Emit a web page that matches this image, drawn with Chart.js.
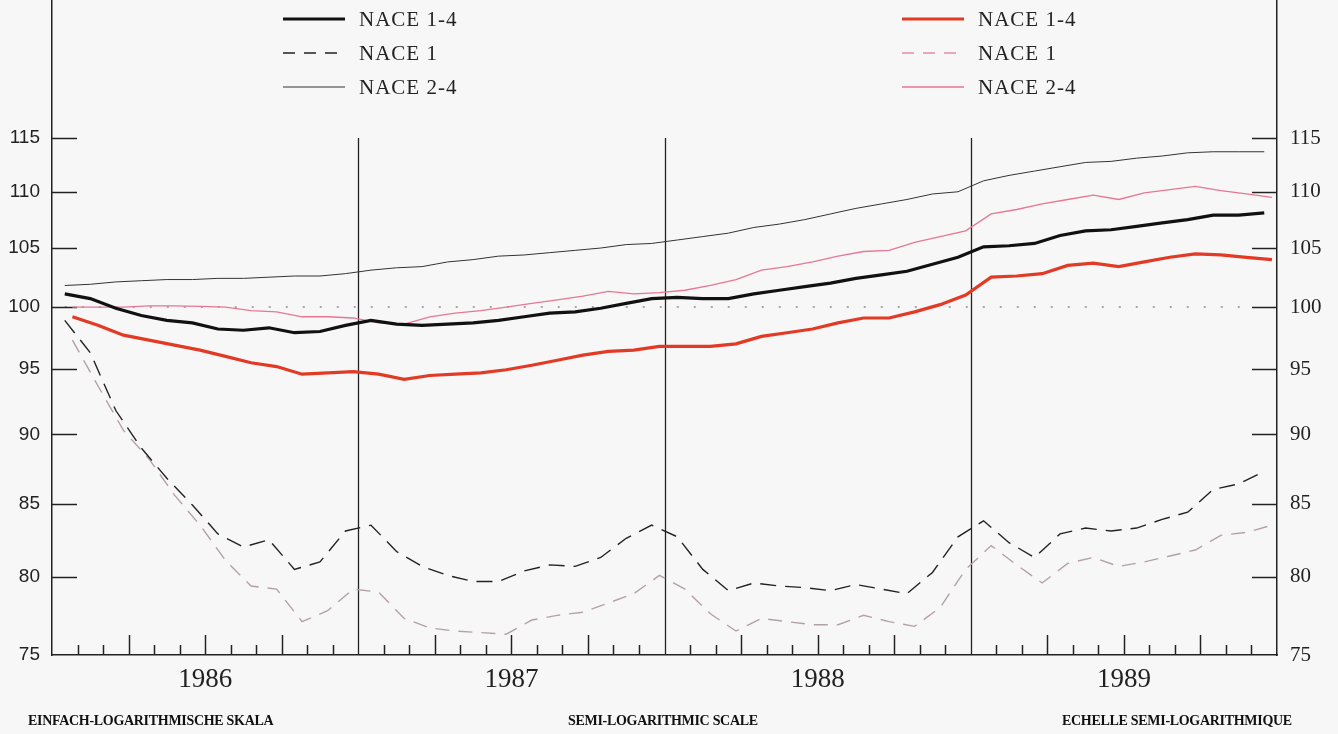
<!DOCTYPE html>
<html>
<head>
<meta charset="utf-8">
<script src="https://cdn.jsdelivr.net/npm/chart.js@4.4.0/dist/chart.umd.min.js"></script>
<style>
  html, body { margin: 0; padding: 0; background: #f7f7f7; }
  #wrap { position: relative; width: 1338px; height: 734px; }
  #chart { position: absolute; left: 0; top: 0; }
  .legend { position: absolute; top: 2px; font-family: "Liberation Serif", serif; font-size: 21px; color: #222; letter-spacing: 1px; }
  .legend .row { display: flex; align-items: center; height: 34px; }
  .legend canvas { margin-right: 14px; }
  .caption { position: absolute; top: 713px; font-family: "Liberation Serif", serif; font-weight: bold; font-size: 14px; letter-spacing: -0.3px; color: #111; }
</style>
</head>
<body>
<div id="wrap">
  <canvas id="chart" width="1338" height="734"></canvas>
  <div class="legend" id="legendA" style="left:283px"></div>
  <div class="legend" id="legendB" style="left:902px"></div>
  <div class="caption" style="left:28px">EINFACH-LOGARITHMISCHE SKALA</div>
  <div class="caption" style="left:568px">SEMI-LOGARITHMIC SCALE</div>
  <div class="caption" style="left:1062px">ECHELLE SEMI-LOGARITHMIQUE</div>
</div>
<script>
  const years = ['1986', '1987', '1988', '1989'];
  const seriesNames = ['NACE 1-4', 'NACE 1', 'NACE 2-4'];
  const yTicks = [75, 80, 85, 90, 95, 100, 105, 110, 115];

  // black group, monthly Jan 1986 .. Dec 1989
  const blackNace14 = [
    101.1, 100.7, 99.9, 99.3, 98.9, 98.7, 98.2, 98.1, 98.3, 97.9, 98.0, 98.5,
    98.9, 98.6, 98.5, 98.6, 98.7, 98.9, 99.2, 99.5, 99.6, 99.9, 100.3, 100.7,
    100.8, 100.7, 100.7, 101.1, 101.4, 101.7, 102.0, 102.4, 102.7, 103.0, 103.6, 104.2,
    105.1, 105.2, 105.4, 106.1, 106.5, 106.6, 106.9, 107.2, 107.5, 107.9, 107.9, 108.1
  ];
  const blackNace1 = [
    98.9, 96.3, 91.8, 89.0, 86.8, 84.9, 82.9, 82.0, 82.5, 80.5, 81.0, 83.1,
    83.5, 81.7, 80.7, 80.1, 79.7, 79.7, 80.4, 80.8, 80.7, 81.3, 82.6, 83.5,
    82.7, 80.5, 79.1, 79.6, 79.4, 79.3, 79.1, 79.5, 79.2, 78.9, 80.3, 82.7,
    83.8, 82.3, 81.3, 82.9, 83.3, 83.1, 83.3, 83.9, 84.4, 86.0, 86.4, 87.3
  ];
  const blackNace24 = [
    101.8, 101.9, 102.1, 102.2, 102.3, 102.3, 102.4, 102.4, 102.5, 102.6, 102.6, 102.8,
    103.1, 103.3, 103.4, 103.8, 104.0, 104.3, 104.4, 104.6, 104.8, 105.0, 105.3, 105.4,
    105.7, 106.0, 106.3, 106.8, 107.1, 107.5, 108.0, 108.5, 108.9, 109.3, 109.8, 110.0,
    111.0, 111.5, 111.9, 112.3, 112.7, 112.8, 113.1, 113.3, 113.6, 113.7, 113.7, 113.7
  ];

  // red group
  const redNace14 = [
    99.2, 98.5, 97.7, 97.3, 96.9, 96.5, 96.0, 95.5, 95.2, 94.6, 94.7, 94.8,
    94.6, 94.2, 94.5, 94.6, 94.7, 94.95, 95.3, 95.7, 96.1, 96.4, 96.5, 96.8,
    96.8, 96.8, 97.0, 97.6, 97.9, 98.2, 98.7, 99.1, 99.1, 99.6, 100.2, 101.0,
    102.5, 102.6, 102.8, 103.5, 103.7, 103.4, 103.8, 104.2, 104.5, 104.4, 104.2, 104.0
  ];
  const redNace1 = [
    97.3, 93.7, 90.3, 88.2, 85.6, 83.5, 81.1, 79.4, 79.2, 77.1, 77.8, 79.2,
    79.0, 77.3, 76.7, 76.5, 76.4, 76.3, 77.2, 77.5, 77.7, 78.3, 78.9, 80.1,
    79.2, 77.6, 76.5, 77.3, 77.1, 76.9, 76.9, 77.5, 77.1, 76.8, 78.0, 80.5,
    82.1, 80.8, 79.6, 80.9, 81.3, 80.7, 81.0, 81.4, 81.8, 82.8, 83.0, 83.5
  ];
  const redNace24 = [
    100.0, 100.0, 100.0, 100.1, 100.1, 100.05, 100.0, 99.7, 99.6, 99.2, 99.2, 99.1,
    98.7, 98.6, 99.2, 99.5, 99.7, 100.0, 100.3, 100.6, 100.9, 101.3, 101.1, 101.2,
    101.4, 101.8, 102.3, 103.1, 103.4, 103.8, 104.3, 104.7, 104.8, 105.5, 106.0, 106.5,
    108.0, 108.4, 108.9, 109.3, 109.7, 109.3, 109.9, 110.2, 110.5, 110.1, 109.8, 109.5
  ];

  const months = years.length * 12;

  // red curves sit a little right of the month centres in the original
  function points(values, shift) {
    return values.map((v, i) => ({ x: i + 0.5 + shift, y: v }));
  }

  const styles = [
    { color: '#111', width: 3.2, dash: [] },
    { color: '#222', width: 1.4, dash: [16, 9] },
    { color: '#333', width: 1, dash: [] },
    { color: 'rgb(226,58,36)', width: 3.2, dash: [] },
    { color: 'rgb(180,160,168)', width: 1.4, dash: [14, 9] },
    { color: 'rgb(232,118,148)', width: 1.3, dash: [] }
  ];

  const groups = [
    { values: [blackNace14, blackNace1, blackNace24], shift: 0 },
    { values: [redNace14, redNace1, redNace24], shift: 0.3 }
  ];

  const datasets = [];
  groups.forEach((g, gi) => {
    g.values.forEach((vals, si) => {
      const st = styles[gi * 3 + si];
      datasets.push({
        label: seriesNames[si],
        data: points(vals, g.shift),
        borderColor: st.color,
        borderWidth: st.width,
        borderDash: st.dash,
        pointRadius: 0,
        tension: 0,
        fill: false
      });
    });
  });

  // html legends
  ['legendA', 'legendB'].forEach((id, gi) => {
    const box = document.getElementById(id);
    seriesNames.forEach((name, si) => {
      const st = styles[gi * 3 + si];
      const row = document.createElement('div');
      row.className = 'row';
      const c = document.createElement('canvas');
      c.width = 62; c.height = 10;
      const cx = c.getContext('2d');
      cx.strokeStyle = gi === 1 && si === 1 ? 'rgb(232,140,165)' : st.color;
      cx.lineWidth = st.width;
      cx.setLineDash(st.dash.length ? [12, 9] : []);
      cx.beginPath(); cx.moveTo(0, 5); cx.lineTo(62, 5); cx.stroke();
      row.appendChild(c);
      const t = document.createElement('span');
      t.textContent = name;
      row.appendChild(t);
      box.appendChild(row);
    });
  });

  const frame = {
    id: 'frame',
    beforeDatasetsDraw(chart) {
      const ctx = chart.ctx;
      const x = chart.scales.x, y = chart.scales.y;
      const area = chart.chartArea;
      ctx.save();
      // dotted reference at 100
      ctx.strokeStyle = '#a8a8a8';
      ctx.lineWidth = 2;
      ctx.setLineDash([2, 15]);
      const y100 = y.getPixelForValue(100);
      ctx.beginPath();
      ctx.moveTo(x.getPixelForValue(0.5), y100);
      ctx.lineTo(x.getPixelForValue(46.9), y100);
      ctx.stroke();
      ctx.setLineDash([]);
      ctx.strokeStyle = '#222';
      // year separators
      ctx.lineWidth = 1.3;
      const yTop = y.getPixelForValue(115);
      for (let m = 12; m < months; m += 12) {
        const px = Math.round(x.getPixelForValue(m)) + 0.5;
        ctx.beginPath(); ctx.moveTo(px, yTop); ctx.lineTo(px, area.bottom); ctx.stroke();
      }
      // month ticks
      ctx.lineWidth = 1.5;
      for (let m = 1; m < months; m++) {
        if (m % 12 === 0) continue;
        const len = m % 3 === 0 ? 20 : 10;
        const px = Math.round(x.getPixelForValue(m)) + 0.5;
        ctx.beginPath(); ctx.moveTo(px, area.bottom); ctx.lineTo(px, area.bottom - len); ctx.stroke();
      }
      // value ticks, inward on both sides
      yTicks.slice(1).forEach(v => {
        const py = Math.round(y.getPixelForValue(v)) + 0.5;
        ctx.beginPath(); ctx.moveTo(area.left, py); ctx.lineTo(area.left + 25, py); ctx.stroke();
        ctx.beginPath(); ctx.moveTo(area.right - 25, py); ctx.lineTo(area.right, py); ctx.stroke();
      });
      ctx.restore();
    }
  };

  const yMax = 128.9;

  const yAxis = (pos, family, size, pad, w) => ({
    type: 'logarithmic',
    position: pos,
    min: 75,
    max: yMax,
    grid: { display: false, drawTicks: false },
    border: { display: true, color: '#222', width: 1.5 },
    afterBuildTicks: s => { s.ticks = yTicks.map(v => ({ value: v })); },
    afterFit: s => { s.width = w; s.paddingTop = 0; s.paddingBottom = 0; },
    ticks: {
      padding: pad,
      color: '#222',
      font: { family: family, size: size },
      callback: v => String(v)
    }
  });

  new Chart(document.getElementById('chart'), {
    type: 'line',
    data: { datasets: datasets },
    plugins: [frame],
    options: {
      responsive: false,
      animation: false,
      layout: { padding: 0 },
      plugins: { legend: { display: false }, tooltip: { enabled: false } },
      scales: {
        x: {
          type: 'linear',
          min: 0,
          max: months,
          grid: { display: false, drawTicks: false },
          border: { display: true, color: '#222', width: 1.5 },
          afterBuildTicks: s => { s.ticks = years.map((yr, i) => ({ value: i * 12 + 6 })); },
          afterFit: s => { s.height = 79; s.paddingLeft = 0; s.paddingRight = 0; },
          ticks: {
            padding: 9,
            maxRotation: 0,
            autoSkip: false,
            color: '#222',
            font: { family: 'Liberation Serif', size: 27 },
            callback: v => years[Math.round((v - 6) / 12)]
          }
        },
        y: yAxis('left', 'Liberation Sans', 19, 12, 52),
        y2: yAxis('right', 'Liberation Serif', 21, 13, 61)
      }
    }
  });
</script>
</body>
</html>
